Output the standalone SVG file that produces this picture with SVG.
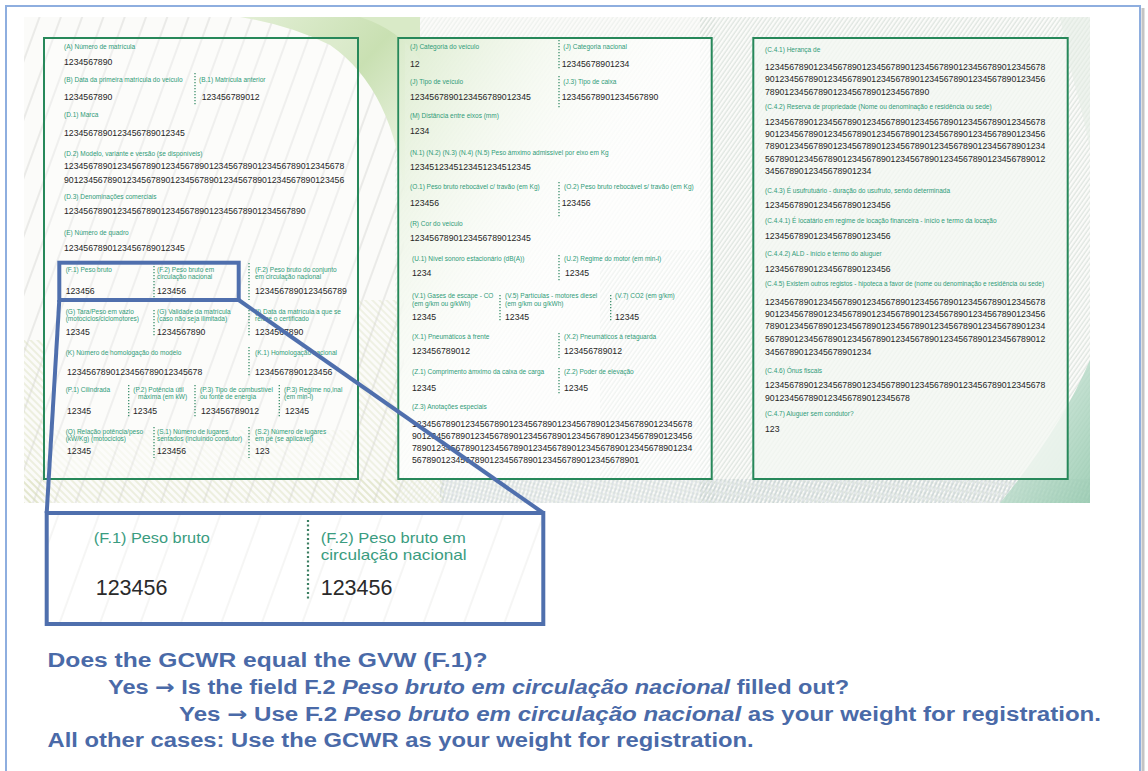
<svg xmlns="http://www.w3.org/2000/svg" width="1148" height="771" viewBox="0 0 1148 771">
<defs>
<style>
.lb{font-family:"Liberation Sans",Arial,sans-serif;font-size:6.5px;fill:#2f9b78}
.v{font-family:"Liberation Sans",Arial,sans-serif;font-size:8.7px;fill:#262626}
.sep{stroke:#3c8f6c;stroke-width:1.3;stroke-dasharray:1.3 1.7;fill:none}
.panel{stroke:#27885a;stroke-width:2}
.hl{fill:none;stroke:#4f6fad;stroke-width:4}
.zl{font-family:"Liberation Sans",Arial,sans-serif;font-size:14.5px;fill:#3a9c80}
.zv{font-family:"Liberation Sans",Arial,sans-serif;font-size:21.5px;fill:#2a2a2a}
.q{font-family:"Liberation Sans",Arial,sans-serif;font-size:20px;font-weight:bold;fill:#4a6aa8}
.ar{font-family:"DejaVu Sans",sans-serif;font-weight:bold}
</style>
<pattern id="sparse" width="20" height="40" patternUnits="userSpaceOnUse" patternTransform="rotate(20)">
<line x1="3" y1="0" x2="3" y2="40" stroke="#d6d6d2" stroke-width="0.9"/>
</pattern>
<pattern id="zsparse" width="38" height="60" patternUnits="userSpaceOnUse" patternTransform="rotate(20)">
<line x1="3" y1="0" x2="3" y2="60" stroke="#ececea" stroke-width="1"/>
</pattern>
<pattern id="fine" width="3.5" height="10" patternUnits="userSpaceOnUse" patternTransform="rotate(35)">
<line x1="1" y1="0" x2="1" y2="10" stroke="#b8c9bd" stroke-width="0.6"/>
</pattern>
<pattern id="back" width="5" height="10" patternUnits="userSpaceOnUse" patternTransform="rotate(-45)">
<line x1="1" y1="0" x2="1" y2="10" stroke="#d7dcb8" stroke-width="0.8"/>
</pattern>
<pattern id="grid" width="4" height="4" patternUnits="userSpaceOnUse" patternTransform="rotate(15)">
<line x1="1" y1="0" x2="1" y2="4" stroke="#a9b8c8" stroke-width="0.6"/>
<line x1="0" y1="1" x2="4" y2="1" stroke="#c6d2c4" stroke-width="0.4"/>
</pattern>
<linearGradient id="gGreen" x1="0" y1="0" x2="1" y2="1">
<stop offset="0" stop-color="#e3efd6"/>
<stop offset="0.5" stop-color="#c9e0b2"/>
<stop offset="1" stop-color="#f4f8ef"/>
</linearGradient>
<linearGradient id="gPanel2" x1="0" y1="0" x2="0.6" y2="0.5">
<stop offset="0" stop-color="#d5e8c4" stop-opacity="0.8"/>
<stop offset="1" stop-color="#ffffff" stop-opacity="0"/>
</linearGradient>
<linearGradient id="gTeal" x1="0" y1="0" x2="1" y2="1">
<stop offset="0" stop-color="#dfeee6"/>
<stop offset="1" stop-color="#8fc7aa"/>
</linearGradient>
<clipPath id="photoClip"><rect x="24" y="17" width="1066" height="486"/></clipPath>
</defs>

<rect x="0" y="0" width="1148" height="771" fill="#ffffff"/>

<g id="frame">
<line x1="1143" y1="8" x2="1143" y2="771" stroke="#c4c4c4" stroke-width="3"/>
<rect x="6" y="6" width="1134" height="790" fill="none" stroke="#8eaedf" stroke-width="2"/>
</g>

<g id="photo-background" clip-path="url(#photoClip)">
<rect x="24" y="17" width="1066" height="486" fill="#fbfbf9"/>
<rect x="24" y="17" width="380" height="486" fill="url(#sparse)"/>
<rect x="395" y="17" width="320" height="486" fill="url(#fine)" opacity="0.45"/>
<rect x="700" y="17" width="390" height="486" fill="url(#fine)"/>
<path d="M240,17 L405,17 L405,200 Q395,90 330,45 Q290,25 240,17 Z" fill="url(#gGreen)"/>
<path d="M360,17 L420,17 L420,60 Q400,30 360,17 Z" fill="#d9eac7"/>
<rect x="24" y="340" width="20" height="163" fill="url(#back)"/>
<rect x="24" y="479" width="420" height="24" fill="url(#back)"/>
<rect x="358" y="300" width="40" height="203" fill="url(#back)" opacity="0.8"/>
<rect x="440" y="479" width="650" height="24" fill="url(#grid)"/>
<path d="M1090,360 Q1060,430 1000,503 L1090,503 Z" fill="url(#gTeal)" opacity="0.8"/>
<path d="M1068,60 Q1085,120 1090,150 L1090,17 L1060,17 Z" fill="#e6eee6" opacity="0.6"/>
</g>

<g id="panel-1">
<rect class="panel" x="44" y="38" width="314" height="441" fill="#ffffff" fill-opacity="0.25"/>
<rect x="45" y="430" width="312" height="48" fill="url(#back)" opacity="0.35"/>
<text class="lb" x="64" y="49.3">(A) Número de matrícula</text>
<text class="v" x="64" y="65">1234567890</text>
<text class="lb" x="64" y="81.7">(B) Data da primeira matrícula do veículo</text>
<text class="lb" x="199" y="81.7">(B.1) Matrícula anterior</text>
<line class="sep" x1="195" y1="73" x2="195" y2="105"/>
<text class="v" x="64" y="100">1234567890</text>
<text class="v" x="201.7" y="100">123456789012</text>
<text class="lb" x="64" y="117">(D.1) Marca</text>
<text class="v" x="64" y="136">1234567890123456789012345</text>
<text class="lb" x="64" y="155.7">(D.2) Modelo, variante e versão (se disponíveis)</text>
<text class="v" x="64" y="169.3">1234567890123456789012345678901234567890123456789012345678</text>
<text class="v" x="64" y="183.3">9012345678901234567890123456789012345678901234567890123456</text>
<text class="lb" x="64" y="199">(D.3) Denominações comerciais</text>
<text class="v" x="64" y="214.3">12345678901234567890123456789012345678901234567890</text>
<text class="lb" x="64" y="235.3">(E) Número de quadro</text>
<text class="v" x="64" y="250.7">1234567890123456789012345</text>
<text class="lb" x="65.7" y="271.7">(F.1) Peso bruto</text>
<text class="lb" x="157" y="271.7">(F.2) Peso bruto em</text>
<text class="lb" x="157" y="279">circulação nacional</text>
<text class="lb" x="255" y="271.7">(F.2) Peso bruto do conjunto</text>
<text class="lb" x="255" y="279">em circulação nacional</text>
<text class="v" x="65.7" y="294.3">123456</text>
<text class="v" x="157" y="294.3">123456</text>
<text class="v" x="255" y="294.3">1234567890123456789</text>
<line class="sep" x1="154" y1="263" x2="154" y2="300"/>
<line class="sep" x1="249" y1="263" x2="249" y2="300"/>
<text class="lb" x="65.7" y="314">(G) Tara/Peso em vazio</text>
<text class="lb" x="65.7" y="321">(motociclos/ciclomotores)</text>
<text class="lb" x="157" y="314">(G) Validade da matrícula</text>
<text class="lb" x="157" y="321">(caso não seja ilimitada)</text>
<text class="lb" x="255" y="314">(I) Data da matrícula a que se</text>
<text class="lb" x="255" y="321">refere o certificado</text>
<text class="v" x="65.7" y="335.3">12345</text>
<text class="v" x="157" y="335.3">1234567890</text>
<text class="v" x="255" y="335.3">1234567890</text>
<line class="sep" x1="154" y1="310" x2="154" y2="337"/>
<line class="sep" x1="249" y1="310" x2="249" y2="337"/>
<text class="lb" x="65.7" y="355">(K) Número de homologação do modelo</text>
<text class="lb" x="255" y="355">(K.1) Homologação nacional</text>
<text class="v" x="67" y="375">1234567890123456789012345678</text>
<text class="v" x="255" y="375">1234567890123456</text>
<line class="sep" x1="249" y1="347" x2="249" y2="377"/>
<text class="lb" x="65.7" y="391.7">(P.1) Cilindrada</text>
<text class="lb" x="133.3" y="391.7">(P.2) Potência útil</text>
<text class="lb" x="138" y="398.7">máxima (em kW)</text>
<text class="lb" x="200" y="391.7">(P.3) Tipo de combustível</text>
<text class="lb" x="200" y="398.7">ou fonte de energia</text>
<text class="lb" x="284" y="391.7">(P.3) Regime no,inal</text>
<text class="lb" x="284" y="398.7">(em min-l)</text>
<text class="v" x="67" y="414">12345</text>
<text class="v" x="133" y="414">12345</text>
<text class="v" x="201" y="414">123456789012</text>
<text class="v" x="285" y="414">12345</text>
<line class="sep" x1="128.7" y1="385" x2="128.7" y2="417"/>
<line class="sep" x1="195" y1="385" x2="195" y2="417"/>
<line class="sep" x1="279.3" y1="385" x2="279.3" y2="417"/>
<text class="lb" x="65.7" y="433.7">(Q) Relação potência/peso</text>
<text class="lb" x="65.7" y="440.7">(kW/Kg) (motociclos)</text>
<text class="lb" x="157" y="433.7">(S.1) Número de lugares</text>
<text class="lb" x="157" y="440.7">sentados (incluindo condutor)</text>
<text class="lb" x="255" y="433.7">(S.2) Número de lugares</text>
<text class="lb" x="255" y="440.7">em pé (se aplicável)</text>
<text class="v" x="67" y="454">12345</text>
<text class="v" x="157" y="454">123456</text>
<text class="v" x="255" y="454">123</text>
<line class="sep" x1="154" y1="427" x2="154" y2="458"/>
<line class="sep" x1="249" y1="427" x2="249" y2="458"/>
</g>

<g id="panel-2">
<rect class="panel" x="398.3" y="38" width="313.4" height="441" fill="#ffffff" fill-opacity="0.7"/>
<rect x="399.3" y="39" width="311.4" height="439" fill="url(#gPanel2)"/>
<rect x="600" y="250" width="110.7" height="228" fill="url(#fine)" opacity="0.35"/>
<text class="lb" x="410" y="49.3">(J) Categoria do veículo</text>
<text class="lb" x="563.3" y="49.3">(J) Categoria nacional</text>
<line class="sep" x1="559" y1="40" x2="559" y2="70"/>
<text class="v" x="410" y="66.7">12</text>
<text class="v" x="561.7" y="66.7">12345678901234</text>
<text class="lb" x="410" y="84.3">(J) Tipo de veículo</text>
<text class="lb" x="563.3" y="84.3">(J.3) Tipo de caixa</text>
<line class="sep" x1="559" y1="76" x2="559" y2="108"/>
<text class="v" x="410" y="100">1234567890123456789012345</text>
<text class="v" x="561.7" y="100">12345678901234567890</text>
<text class="lb" x="410" y="118.3">(M) Distância entre eixos (mm)</text>
<text class="v" x="410" y="134">1234</text>
<text class="lb" x="410" y="155">(N.1) (N.2) (N.3) (N.4) (N.5) Peso ámximo admissível por eixo em Kg</text>
<text class="v" x="410" y="170">1234512345123451234512345</text>
<text class="lb" x="410" y="189">(O.1) Peso bruto rebocável c/ travão (em Kg)</text>
<text class="lb" x="564" y="189">(O.2) Peso bruto rebocável s/ travão (em Kg)</text>
<line class="sep" x1="559" y1="182" x2="559" y2="218"/>
<text class="v" x="410" y="206">123456</text>
<text class="v" x="561.7" y="206">123456</text>
<text class="lb" x="410" y="225.7">(R) Cor do veículo</text>
<text class="v" x="410" y="240.7">1234567890123456789012345</text>
<text class="lb" x="412" y="261">(U.1) Nível sonoro estacionário (dB(A))</text>
<text class="lb" x="564" y="261">(U.2) Regime do motor (em min-l)</text>
<line class="sep" x1="559" y1="255" x2="559" y2="282"/>
<text class="v" x="412" y="276">1234</text>
<text class="v" x="565" y="276">12345</text>
<text class="lb" x="412" y="298.3">(V.1) Gases de escape - CO</text>
<text class="lb" x="412" y="305.7">(em g/km ou g/kWh)</text>
<text class="lb" x="505" y="298.3">(V.5) Partículas - motores diesel</text>
<text class="lb" x="505" y="305.7">(em g/km ou g/kWh)</text>
<text class="lb" x="615" y="298.3">(V.7) CO2 (em g/km)</text>
<line class="sep" x1="500" y1="295" x2="500" y2="322"/>
<line class="sep" x1="610.7" y1="295" x2="610.7" y2="322"/>
<text class="v" x="412" y="320">12345</text>
<text class="v" x="505" y="320">12345</text>
<text class="v" x="615" y="320">12345</text>
<text class="lb" x="412" y="339.3">(X.1) Pneumáticos à frente</text>
<text class="lb" x="564" y="339.3">(X.2) Pneumáticos à retaguarda</text>
<line class="sep" x1="559" y1="333" x2="559" y2="358"/>
<text class="v" x="412" y="354">123456789012</text>
<text class="v" x="564" y="354">123456789012</text>
<text class="lb" x="412" y="374">(Z.1) Comprimento ámximo da caixa de carga</text>
<text class="lb" x="564" y="374">(Z.2) Poder de elevação</text>
<line class="sep" x1="559" y1="368" x2="559" y2="395"/>
<text class="v" x="412" y="390.7">12345</text>
<text class="v" x="564" y="390.7">12345</text>
<text class="lb" x="412" y="408.7">(Z.3) Anotações especiais</text>
<text class="v" x="412" y="427">1234567890123456789012345678901234567890123456789012345678</text>
<text class="v" x="412" y="439">9012345678901234567890123456789012345678901234567890123456</text>
<text class="v" x="412" y="451">7890123456789012345678901234567890123456789012345678901234</text>
<text class="v" x="412" y="463">56789012345678901234567890123456789012345678901</text>
</g>

<g id="panel-3">
<rect class="panel" x="753.3" y="38" width="314.4" height="441" fill="#f4f7f3" fill-opacity="0.8"/>
<text class="lb" x="765" y="51.7">(C.4.1) Herança de</text>
<text class="v" x="765" y="70">1234567890123456789012345678901234567890123456789012345678</text>
<text class="v" x="765" y="82.3">9012345678901234567890123456789012345678901234567890123456</text>
<text class="v" x="765" y="95">7890123456789012345678901234567890</text>
<text class="lb" x="765" y="109">(C.4.2) Reserva de propriedade (Nome ou denominação e residência ou sede)</text>
<text class="v" x="765" y="125">1234567890123456789012345678901234567890123456789012345678</text>
<text class="v" x="765" y="137.3">9012345678901234567890123456789012345678901234567890123456</text>
<text class="v" x="765" y="149.3">7890123456789012345678901234567890123456789012345678901234</text>
<text class="v" x="765" y="161.7">5678901234567890123456789012345678901234567890123456789012</text>
<text class="v" x="765" y="174">3456789012345678901234</text>
<text class="lb" x="765" y="192.7">(C.4.3) É usufrutuário - duração do usufruto, sendo determinada</text>
<text class="v" x="765" y="208.3">12345678901234567890123456</text>
<text class="lb" x="765" y="222.7">(C.4.4.1) É locatário em regime de locação financeira - início e termo da locação</text>
<text class="v" x="765" y="239.3">12345678901234567890123456</text>
<text class="lb" x="765" y="255.5">(C.4.4.2) ALD - início e termo do aluguer</text>
<text class="v" x="765" y="271.7">12345678901234567890123456</text>
<text class="lb" x="765" y="286" textLength="279" lengthAdjust="spacingAndGlyphs">(C.4.5) Existem outros registos - hipoteca a favor de (nome ou denominação e residência ou sede)</text>
<text class="v" x="765" y="305">1234567890123456789012345678901234567890123456789012345678</text>
<text class="v" x="765" y="316.7">9012345678901234567890123456789012345678901234567890123456</text>
<text class="v" x="765" y="329.3">7890123456789012345678901234567890123456789012345678901234</text>
<text class="v" x="765" y="341.7">5678901234567890123456789012345678901234567890123456789012</text>
<text class="v" x="765" y="355">3456789012345678901234</text>
<text class="lb" x="765" y="373.3">(C.4.6) Ónus fiscais</text>
<text class="v" x="765" y="388.3">1234567890123456789012345678901234567890123456789012345678</text>
<text class="v" x="765" y="400.7">901234567890123456789012345678</text>
<text class="lb" x="765" y="415.7">(C.4.7) Aluguer sem condutor?</text>
<text class="v" x="765" y="431.7">123</text>
</g>

<g id="highlight-box">
<rect class="hl" x="59.3" y="262.7" width="179.4" height="37.3"/>
</g>

<g id="connectors">
<line x1="59.3" y1="300" x2="46.7" y2="513" stroke="#4f6fad" stroke-width="4"/>
<line x1="238.7" y1="300" x2="543.3" y2="513" stroke="#4f6fad" stroke-width="4"/>
</g>

<g id="zoom-box">
<rect x="46.7" y="513" width="496.6" height="111" fill="#ffffff"/>
<rect x="46.7" y="513" width="496.6" height="111" fill="url(#zsparse)"/>
<text class="zl" x="93.8" y="542.7" textLength="116" lengthAdjust="spacingAndGlyphs">(F.1) Peso bruto</text>
<text class="zl" x="320.7" y="542.7" textLength="145" lengthAdjust="spacingAndGlyphs">(F.2) Peso bruto em</text>
<text class="zl" x="320.7" y="560" textLength="146" lengthAdjust="spacingAndGlyphs">circulação nacional</text>
<text class="zv" x="95.7" y="595">123456</text>
<text class="zv" x="320.7" y="595">123456</text>
<line x1="308" y1="520" x2="308" y2="600" stroke="#3c7f62" stroke-width="2.2" stroke-dasharray="2 2.5"/>
<rect class="hl" x="46.7" y="513" width="496.6" height="111"/>
</g>

<g id="instructions">
<text class="q" x="47.6" y="667" textLength="440" lengthAdjust="spacingAndGlyphs">Does the GCWR equal the GVW (F.1)?</text>
<text class="q" x="108" y="694" textLength="741" lengthAdjust="spacingAndGlyphs">Yes <tspan class="ar">→</tspan> Is the field F.2 <tspan font-style="italic">Peso bruto em circulação nacional</tspan> filled out?</text>
<text class="q" x="179" y="721" textLength="922" lengthAdjust="spacingAndGlyphs">Yes <tspan class="ar">→</tspan> Use F.2 <tspan font-style="italic">Peso bruto em circulação nacional</tspan> as your weight for registration.</text>
<text class="q" x="47.6" y="747" textLength="706" lengthAdjust="spacingAndGlyphs">All other cases: Use the GCWR as your weight for registration.</text>
</g>
</svg>
